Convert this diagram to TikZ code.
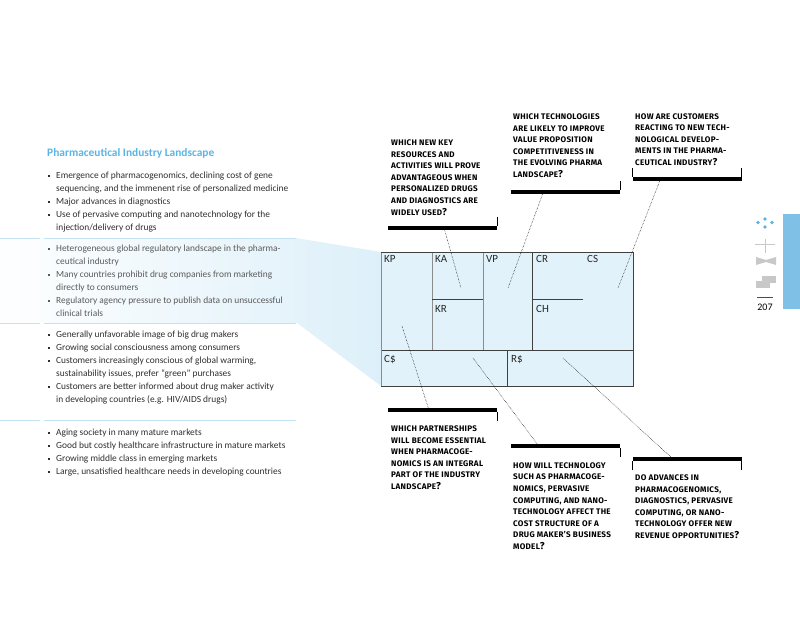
\documentclass[tikz,border=0pt]{standalone}
\usepackage{fontspec}
\setmainfont{Carlito}
\newfontfamily\qfont[LetterSpace=3.5]{Fira Sans}
\usetikzlibrary{calc}
\definecolor{canvasblue}{HTML}{E2F2FA}
\definecolor{titleblue}{HTML}{5AB4E5}
\definecolor{sepblue}{HTML}{C3E2F3}
\definecolor{tabblue}{HTML}{7EC0E6}
\definecolor{bodytext}{HTML}{2E2E2E}
\definecolor{regtext}{HTML}{5A5A5A}
\definecolor{icongray}{HTML}{C8C8C8}
\newcommand\bsq{\makebox[8pt][l]{\raisebox{1.6pt}{\rule{2.2pt}{2.2pt}}}}
\newcommand\ind{\hspace*{8pt}}
\newcommand\qm{{\fontsize{10}{11.6}\selectfont ?}}
\tikzset{
  body/.style={anchor=base west, inner sep=0pt, align=left, text=bodytext,
    font=\fontsize{9.4}{13}\selectfont},
  question/.style={anchor=base west, inner sep=0pt, align=left, text=black,
    font=\qfont\bfseries\fontsize{8.1}{11.6}\selectfont},
  cell/.style={anchor=base west, inner sep=0pt, text=black!85,
    font=\fontsize{11}{11}\selectfont},
  bar/.style={fill=black, inner sep=0pt, minimum width=109pt, minimum height=4pt},
  tick/.style={line width=0.7pt},
  conn/.style={densely dotted, line width=0.5pt},
  sepline/.style={sepblue, line width=0.8pt},
  darkline/.style={draw=black!75, line width=0.7pt},
  lightline/.style={draw=black!45, line width=0.7pt}
}
\begin{document}
\begin{tikzpicture}[x=1pt,y=-1pt]
\useasboundingbox (0,0) rectangle (800,631);
% funnel / regulatory band
\shade[left color=white!96!canvasblue, right color=canvasblue!95!tabblue]
  (0,238) -- (296,238) -- (381,252) -- (381,386) -- (297,323) -- (0,323) -- cycle;
% separators
\foreach \yy in {238,323,420}{
  \draw[sepline] (0,\yy) -- (40,\yy);
  \draw[sepline] (44,\yy) -- (296,\yy);
}
% title and text (anchors at the baseline of the last line)
\node[anchor=base west, inner sep=0pt, text=titleblue, font=\bfseries\fontsize{11.4}{12}\selectfont] (title) at (47,157) {Pharmaceutical Industry Landscape};
\node[body] (tech) at (48,230.5) {\bsq Emergence of pharmacogenomics, declining cost of gene\\
\ind sequencing, and the immenent rise of personalized medicine\\
\bsq Major advances in diagnostics\\
\bsq Use of pervasive computing and nanotechnology for the\\
\ind injection/delivery of drugs};
\node[body, text=regtext] (reg) at (48,316.5) {\bsq Heterogeneous global regulatory landscape in the pharma-\\
\ind ceutical industry\\
\bsq Many countries prohibit drug companies from marketing\\
\ind directly to consumers\\
\bsq Regulatory agency pressure to publish data on unsuccessful\\
\ind clinical trials};
\node[body] (soc) at (48,402.5) {\bsq Generally unfavorable image of big drug makers\\
\bsq Growing social consciousness among consumers\\
\bsq Customers increasingly conscious of global warming,\\
\ind sustainability issues, prefer “green” purchases\\
\bsq Customers are better informed about drug maker activity\\
\ind in developing countries (e.g. HIV/AIDS drugs)};
\node[body] (mkt) at (48,474.5) {\bsq Aging society in many mature markets\\
\bsq Good but costly healthcare infrastructure in mature markets\\
\bsq Growing middle class in emerging markets\\
\bsq Large, unsatisfied healthcare needs in developing countries};
% canvas
\fill[canvasblue] (381,252) rectangle (633,386);
\draw[lightline] (432,252) -- (432,350);
\draw[lightline] (483,252) -- (483,350);
\draw[darkline] (532,252) -- (532,350);
\draw[darkline] (432,299) -- (483,299);
\draw[darkline] (532,299) -- (583,299);
\draw[darkline] (381,350) -- (633,350);
\draw[darkline] (507,350) -- (507,386);
\draw[lightline] (381,252) -- (381,386);
\draw[darkline] (381,252) -- (633,252) -- (633,386) -- (381,386);
\node[cell] (KP) at (384,262) {KP};
\node[cell] (KA) at (435,262) {KA};
\node[cell] (VP) at (486,262) {VP};
\node[cell] (CR) at (536,262) {CR};
\node[cell] (CS) at (587,262) {CS};
\node[cell] (KR) at (435,312) {KR};
\node[cell] (CH) at (536,312) {CH};
\node[cell] (Cd) at (384,362) {C\$};
\node[cell] (Rd) at (511,362) {R\$};
% connector anchor points inside the canvas
\coordinate (pKA) at (461,288);
\coordinate (pVP) at (508,288);
\coordinate (pCS) at (618,288);
\coordinate (pKP) at (402,326);
\coordinate (pCd) at (473,358);
\coordinate (pRd) at (563,358);
% top questions
\node[question] (qKA) at (391,215) {WHICH NEW KEY\\RESOURCES AND\\ACTIVITIES WILL PROVE\\ADVANTAGEOUS WHEN\\PERSONALIZED DRUGS\\AND DIAGNOSTICS ARE\\WIDELY USED\qm};
\node[bar] (bKA) at (442.5,228) {};
\draw[tick] (bKA.north east) -- ++(0,-9);
\node[question] (qVP) at (513,177.5) {WHICH TECHNOLOGIES\\ARE LIKELY TO IMPROVE\\VALUE PROPOSITION\\COMPETITIVENESS IN\\THE EVOLVING PHARMA\\LANDSCAPE\qm};
\node[bar] (bVP) at (565.5,192) {};
\draw[tick] (bVP.north east) -- ++(0,-9);
\node[question] (qCS) at (635,165.5) {HOW ARE CUSTOMERS\\REACTING TO NEW TECH-\\NOLOGICAL DEVELOP-\\MENTS IN THE PHARMA-\\CEUTICAL INDUSTRY\qm};
\node[bar] (bCS) at (687,179) {};
\draw[tick] (bCS.north west) -- ++(0,-9);
\draw[tick] (bCS.north east) -- ++(0,-9);
% bottom questions
\node[bar] (bKP) at (442.5,410) {};
\draw[tick] (bKP.south east) -- ++(0,9);
\node[question] (qKP) at (391,489.5) {WHICH PARTNERSHIPS\\WILL BECOME ESSENTIAL\\WHEN PHARMACOGE-\\NOMICS IS AN INTEGRAL\\PART OF THE INDUSTRY\\LANDSCAPE\qm};
\node[bar] (bCd) at (565.5,446) {};
\draw[tick] (bCd.south east) -- ++(0,9);
\node[question] (qCd) at (513,549.5) {HOW WILL TECHNOLOGY\\SUCH AS PHARMACOGE-\\NOMICS, PERVASIVE\\COMPUTING, AND NANO-\\TECHNOLOGY AFFECT THE\\COST STRUCTURE OF A\\DRUG MAKER’S BUSINESS\\MODEL\qm};
\node[bar] (bRd) at (687,459) {};
\draw[tick] (bRd.south west) -- ++(0,9);
\draw[tick] (bRd.south east) -- ++(0,9);
\node[question] (qRd) at (635,538.5) {DO ADVANCES IN\\PHARMACOGENOMICS,\\DIAGNOSTICS, PERVASIVE\\COMPUTING, OR NANO-\\TECHNOLOGY OFFER NEW\\REVENUE OPPORTUNITIES\qm};
% connectors
\coordinate (cKA) at ($(bKA.south west)!0.52!(bKA.south east)$);
\coordinate (cVP) at ($(bVP.south west)!0.29!(bVP.south east)$);
\coordinate (cCS) at ($(bCS.south west)!0.25!(bCS.south east)$);
\coordinate (cKP) at ($(bKP.north west)!0.37!(bKP.north east)$);
\coordinate (cCd) at ($(bCd.north west)!0.24!(bCd.north east)$);
\coordinate (cRd) at ($(bRd.north west)!0.35!(bRd.north east)$);
\draw[conn] (cKA) -- (pKA);
\draw[conn] (cVP) -- (pVP);
\draw[conn] (cCS) -- (pCS);
\draw[conn] (pKP) -- (cKP);
\draw[conn] (pCd) -- (cCd);
\draw[conn] (pRd) -- (cRd);
% right margin tab and icons
\fill[tabblue] (783,214) rectangle (800,309);
\foreach \p in {(765,219),(758,222.5),(772,222.5),(765,227)}
  \fill[titleblue] \p circle (1.8);
\draw[icongray, line width=0.8pt] (765,239) -- (765,253);
\draw[icongray, line width=0.8pt] (755,244) -- (775,244);
\fill[icongray] (756,257) -- (766,260) -- (776,257) -- (776,265) -- (766,262) -- (756,265) -- cycle;
\fill[icongray] (762,276) rectangle (776,283);
\fill[icongray] (756,281) rectangle (770,288);
\draw[black!70, line width=0.5pt] (757,297) -- (773,297);
\node[inner sep=0pt, font=\fontsize{10}{10}\selectfont] (pg) at (765,307) {207};
\end{tikzpicture}
\end{document}
